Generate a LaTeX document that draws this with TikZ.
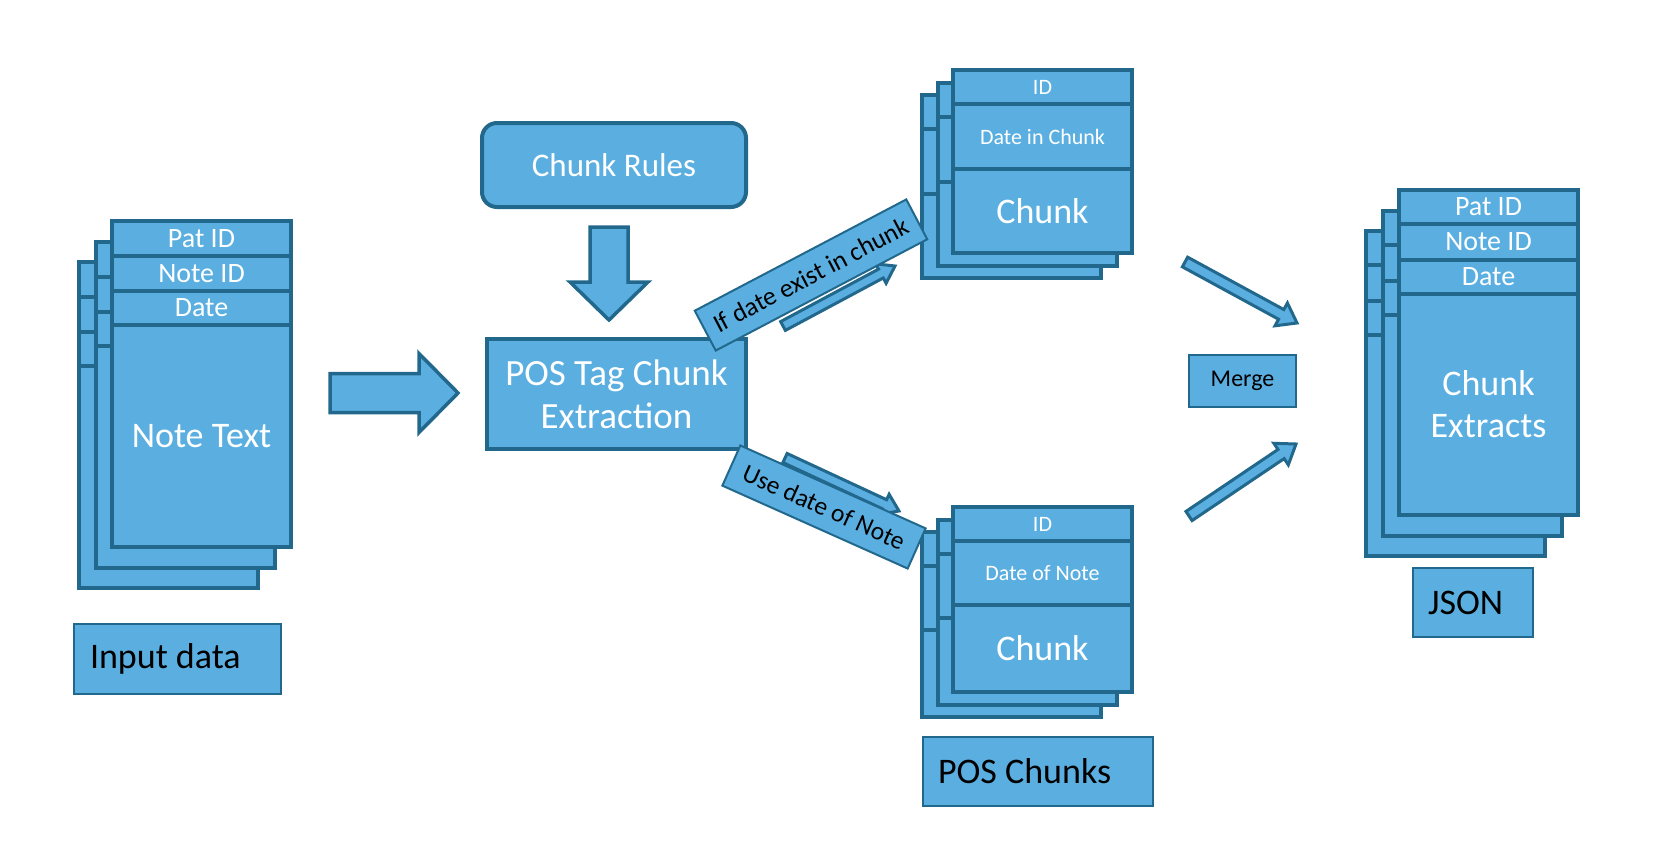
\documentclass[tikz,border=0pt]{standalone}
\usepackage{fontspec}
\setmainfont{Carlito}
\usetikzlibrary{positioning,calc}
\definecolor{boxblue}{RGB}{91,175,224}
\definecolor{edgeblue}{RGB}{33,104,140}
\newcommand\fsz[2]{\fontsize{#1}{#2}\selectfont}
\tikzset{
  sheet/.style={draw=edgeblue,fill=boxblue,line width=4pt},
  field/.style={sheet,outer sep=0pt,inner sep=0pt,minimum width=179,text=white,font=\fsz{28}{32}},
  tag/.style={draw=edgeblue,fill=boxblue,line width=2pt,inner sep=0pt,text=black},
  fat/.style={draw=edgeblue,fill=boxblue,line width=3.5pt,line join=miter},
}
% block arrow: [opts]{tail}{tip}{half shaft}{half head}{head length}
\newcommand\fatarrow[6][]{%
  \coordinate (fa-base) at ($(#3)!#6!(#2)$);
  \draw[fat,#1] ($(#2)!#4!90:(#3)$) -- ($(fa-base)!#4!-90:(#2)$) -- ($(fa-base)!#5!-90:(#2)$)
    -- (#3) -- ($(fa-base)!#5!90:(#2)$) -- ($(fa-base)!#4!90:(#2)$) -- ($(#2)!#4!-90:(#3)$) -- cycle;}
\begin{document}
\begin{tikzpicture}[x=1pt,y=-1pt]
  \useasboundingbox (0,0) rectangle (1670,860);
  % input notes
  \foreach \k in {2,1}
    \draw[sheet,shift={(-16.5*\k,20.5*\k)}] (112,221) rectangle (291,547)
      (112,256)--(291,256) (112,291)--(291,291) (112,325)--(291,325);
  \node[field,minimum height=35,anchor=north west] (patid) at (112,221) {Pat ID};
  \node[field,minimum height=35,below=0pt of patid] (noteid) {Note ID};
  \node[field,minimum height=34,below=0pt of noteid] (date) {Date};
  \node[field,minimum height=222,below=0pt of date,font=\fsz{36}{40}] (notetext) {Note Text};
  \node[tag,anchor=north west,text width=175,inner xsep=16,minimum height=70,align=flush left,font=\fsz{36}{40}] (input) at (73,623) {Input data};
  % rules and extraction
  \node[sheet,rounded corners=15,minimum width=264,minimum height=84,text=white,font=\fsz{33}{38}] (rules) at (614,165) {Chunk Rules};
  \node[sheet,line width=3.5pt,minimum width=259,minimum height=110,text=white,align=center,font=\fsz{37}{43}] (pos) at (616.5,394) {POS Tag Chunk\\Extraction};
  \coordinate (in-tail) at (330,393); \coordinate (in-tip) at (458,393);
  \fatarrow{in-tail}{in-tip}{19.5pt}{39.5pt}{39pt}
  \coordinate (rl-tail) at (609,227); \coordinate (rl-tip) at (609,320);
  \fatarrow{rl-tail}{rl-tip}{19pt}{39pt}{38pt}
  % chunks with a date
  \foreach \k in {2,1}
    \draw[sheet,shift={(-15.5*\k,12.5*\k)}] (953,70) rectangle (1132,253)
      (953,104)--(1132,104) (953,169)--(1132,169);
  \node[field,minimum height=34,anchor=north west,font=\fsz{22}{26}] (topid) at (953,70) {ID};
  \node[field,minimum height=65,below=0pt of topid,font=\fsz{22}{26}] (topdate) {Date in Chunk};
  \node[field,minimum height=84,below=0pt of topdate,font=\fsz{36}{40}] (topchunk) {Chunk};
  % chunks with the note date
  \foreach \k in {2,1}
    \draw[sheet,shift={(-15.5*\k,12.5*\k)}] (953,507) rectangle (1132,692)
      (953,541)--(1132,541) (953,605)--(1132,605);
  \node[field,minimum height=34,anchor=north west,font=\fsz{22}{26}] (botid) at (953,507) {ID};
  \node[field,minimum height=64,below=0pt of botid,font=\fsz{22}{26}] (botdate) {Date of Note};
  \node[field,minimum height=87,below=0pt of botdate,font=\fsz{36}{40}] (botchunk) {Chunk};
  \node[tag,anchor=north west,text width=200,inner xsep=15,minimum height=69,align=flush left,font=\fsz{36}{40}] (poschunks) at (922,736) {POS Chunks};
  % branch arrows
  \coordinate (up-tail) at (783,326); \coordinate (up-tip) at (895,266);
  \fatarrow[line width=3pt]{up-tail}{up-tip}{5pt}{11pt}{16pt}
  \coordinate (dn-tail) at (785,458); \coordinate (dn-tip) at (899,511);
  \fatarrow[line width=3pt]{dn-tail}{dn-tip}{5pt}{11pt}{16pt}
  \node[tag,minimum width=239,minimum height=45,rotate=27.75,font=\fsz{26}{30}] (ifdate) at (811,275) {If date exist in chunk};
  \node[tag,minimum width=203,minimum height=44,rotate=-24.1,font=\fsz{25.5}{30}] (usedate) at (824,507) {Use date of Note};
  % merge
  \node[tag,anchor=north west,minimum width=107,minimum height=52,font=\fsz{24}{28}] (merge) at (1188,354) {Merge};
  \coordinate (mt-tail) at (1185,262); \coordinate (mt-tip) at (1297,323);
  \fatarrow[line width=3pt]{mt-tail}{mt-tip}{5.5pt}{13pt}{18pt}
  \coordinate (mb-tail) at (1189,516); \coordinate (mb-tip) at (1296,444);
  \fatarrow[line width=3pt]{mb-tail}{mb-tip}{5.5pt}{13pt}{18pt}
  % json output
  \foreach \k in {2,1}
    \draw[sheet,shift={(-16.5*\k,20.5*\k)}] (1399,190) rectangle (1578,515)
      (1399,224)--(1578,224) (1399,260)--(1578,260) (1399,294)--(1578,294);
  \node[field,minimum height=34,anchor=north west] (jpat) at (1399,190) {Pat ID};
  \node[field,minimum height=36,below=0pt of jpat] (jnote) {Note ID};
  \node[field,minimum height=34,below=0pt of jnote] (jdate) {Date};
  \node[field,minimum height=221,below=0pt of jdate,align=center,font=\fsz{36}{42}] (jextract) {Chunk\\Extracts};
  \node[tag,anchor=north west,text width=90,inner xsep=15,minimum height=69,align=flush left,font=\fsz{36}{40}] (json) at (1412,567) {JSON};
\end{tikzpicture}
\end{document}
